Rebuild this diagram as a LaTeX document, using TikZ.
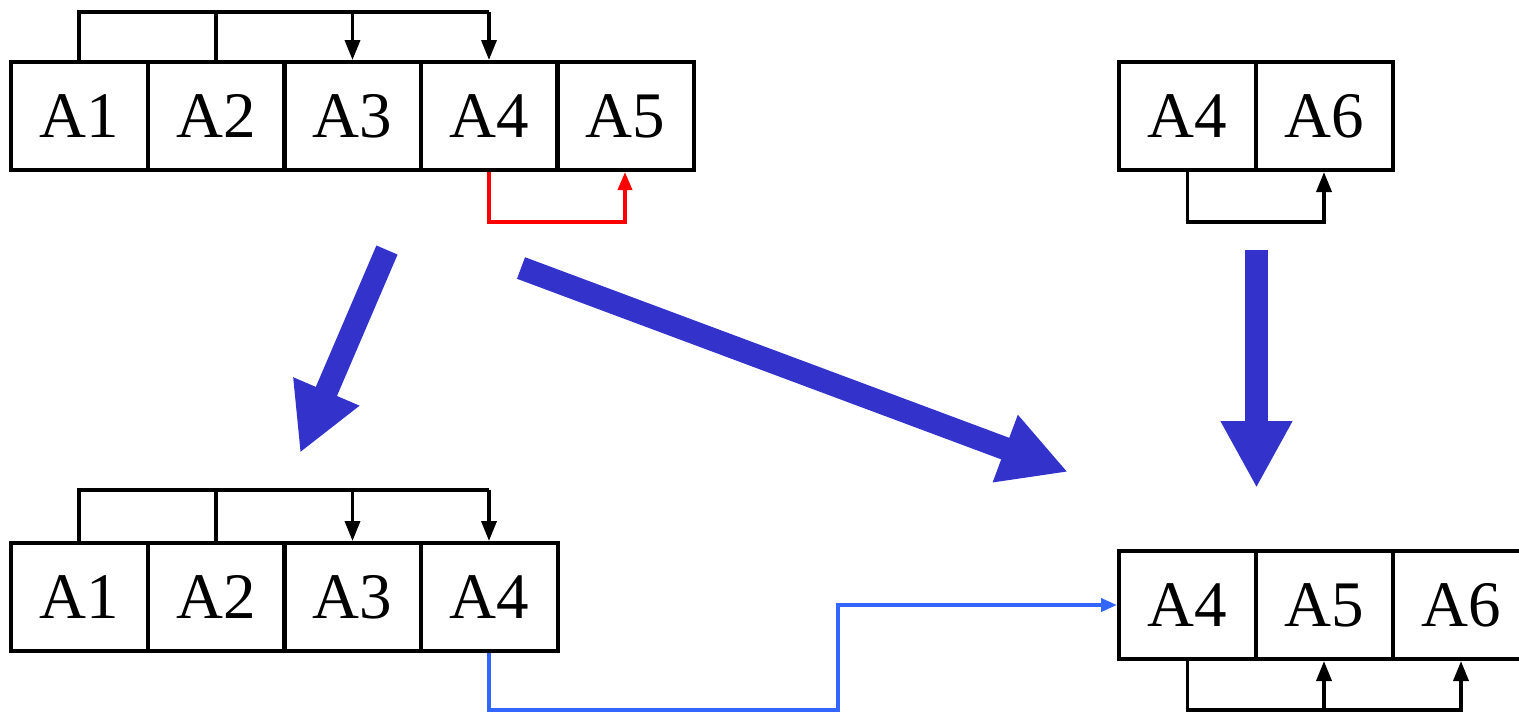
\documentclass[tikz,border=0pt]{standalone}
\usepackage{fontspec}
\setmainfont{Liberation Serif}
\usetikzlibrary{arrows.meta}
\definecolor{bigblue}{HTML}{3333CC}
\definecolor{lineblue}{HTML}{3366FF}
\definecolor{pred}{HTML}{FF0000}
\begin{document}
\begin{tikzpicture}[x=1pt,y=-1pt,
  cell/.style={draw,line width=4pt,minimum width=137pt,minimum height=108pt,inner sep=0pt,font=\fontsize{65}{65}\selectfont},
  dep/.style={draw=black,line width=3.6pt},
  dtip/.style={-{Triangle[length=20pt,width=15pt]}},
  bigarrow/.style={draw=bigblue,line width=23pt,-{Triangle[length=67pt,width=67pt]}}]
\useasboundingbox (0,0) rectangle (1519,713);
% top-left table
\node[cell] (a1) at (79,116) {A1};
\node[cell] (a2) at (216,116) {A2};
\node[cell] (a3) at (352.5,116) {A3};
\node[cell] (a4) at (489,116) {A4};
\node[cell] (a5) at (625,116) {A5};
% top-right table
\node[cell] (b4) at (1187.5,116) {A4};
\node[cell] (b6) at (1324,116) {A6};
% bottom-left table
\node[cell] (c1) at (79,597) {A1};
\node[cell] (c2) at (216,597) {A2};
\node[cell] (c3) at (352.5,597) {A3};
\node[cell] (c4) at (489,597) {A4};
% bottom-right table
\node[cell] (d4) at (1187.5,605) {A4};
\node[cell] (d5) at (1324,605) {A5};
\node[cell] (d6) at (1461,605) {A6};
% helper coordinates
\coordinate (ttop) at (0,12);
\coordinate (btop) at (0,490);
\coordinate (rlow) at (0,222);
\coordinate (blow) at (0,710);
\coordinate (bend) at (838,710);
% top-left dependencies
\draw[dep] (a1.north) -- (a1.north |- ttop) -- (a4.north |- ttop);
\draw[dep] (a2.north) -- (a2.north |- ttop);
\draw[dep,dtip] (a3.north |- ttop) -- (a3.north);
\draw[dep,dtip] (a4.north |- ttop) -- (a4.north);
\draw[draw=pred,line width=3.6pt,-{Triangle[length=18pt,width=14pt]}] (a4.south) -- (a4.south |- rlow) -| (a5.south);
% top-right dependency
\draw[dep,dtip] (b4.south) -- (b4.south |- rlow) -| (b6.south);
% bottom-left dependencies
\draw[dep] (c1.north) -- (c1.north |- btop) -- (c4.north |- btop);
\draw[dep] (c2.north) -- (c2.north |- btop);
\draw[dep,dtip] (c3.north |- btop) -- (c3.north);
\draw[dep,dtip] (c4.north |- btop) -- (c4.north);
% bottom-right dependencies
\draw[dep,dtip] (d4.south) -- (d4.south |- blow) -| (d6.south);
\draw[dep,dtip] (d5.south |- blow) -- (d5.south);
% blue connector
\draw[draw=lineblue,line width=3.8pt,-{Triangle[length=16pt,width=13pt]}] (c4.south) |- (bend) |- (d4.west);
% big arrows
\coordinate (g1s) at (387,250);
\coordinate (g1e) at (300,453);
\coordinate (g2s) at (521,268);
\coordinate (g2e) at (1068,472);
\coordinate (g3s) at (1256.5,250);
\coordinate (g3e) at (1256.5,488);
\draw[bigarrow] (g1s) -- (g1e);
\draw[bigarrow] (g2s) -- (g2e);
\draw[bigarrow] (g3s) -- (g3e);
\end{tikzpicture}
\end{document}
